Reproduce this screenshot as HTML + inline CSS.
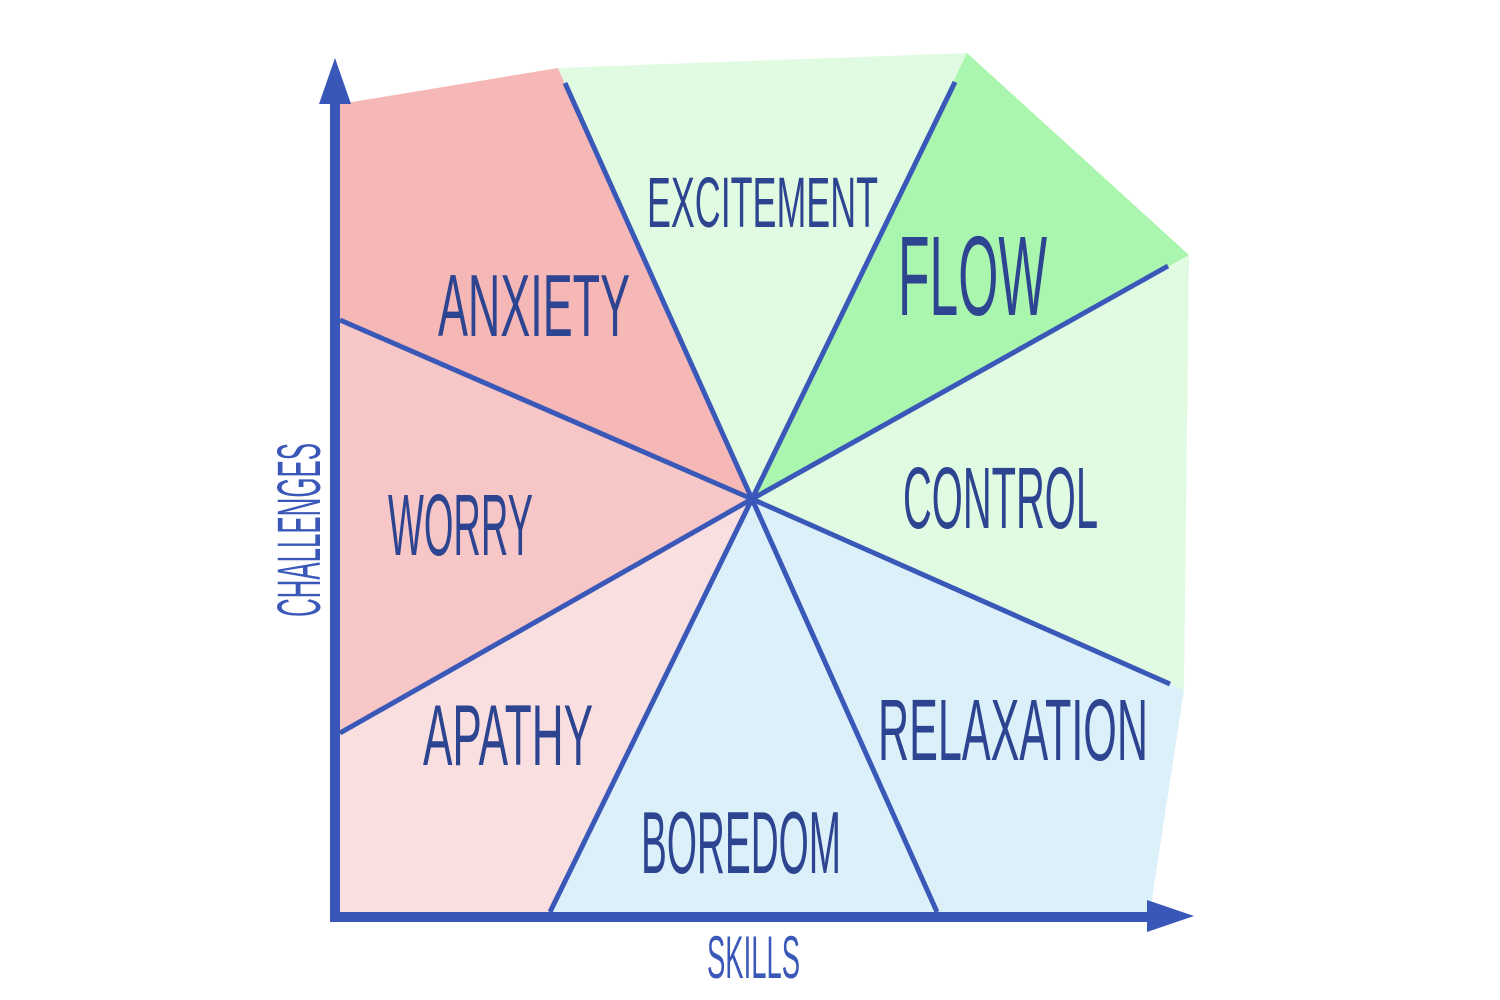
<!DOCTYPE html>
<html>
<head>
<meta charset="utf-8">
<style>
  html, body { margin: 0; padding: 0; background: #ffffff; }
  body { width: 1500px; height: 1000px; overflow: hidden; }
  svg { display: block; }
  .lbl { font-family: "Liberation Sans", "DejaVu Sans", sans-serif; fill: #2d4490; }
  .ax { font-family: "Liberation Sans", "DejaVu Sans", sans-serif; fill: #3a58b8; }
</style>
</head>
<body>
<svg width="1500" height="1000" viewBox="0 0 1500 1000" xmlns="http://www.w3.org/2000/svg">
  <!-- wedges -->
  <polygon points="752,499 340,320 340,104 558,68" fill="#f6b7b7"/>
  <polygon points="752,499 558,68 967,53" fill="#e0fbe1"/>
  <polygon points="752,499 967,53 1189,255" fill="#aaf6ae"/>
  <polygon points="752,499 1189,255 1184,690" fill="#e0fbe1"/>
  <polygon points="752,499 1184,690 1150,912 937,912" fill="#dcf0fa"/>
  <polygon points="752,499 937,912 550,912" fill="#dcf0fa"/>
  <polygon points="752,499 550,912 340,912 340,733" fill="#f9dfdf"/>
  <polygon points="752,499 340,733 340,320" fill="#f7c7c7"/>

  <!-- divider lines -->
  <g stroke="#3a58b8" stroke-width="5" stroke-linecap="butt">
    <line x1="752" y1="499" x2="565" y2="83"/>
    <line x1="752" y1="499" x2="955" y2="82"/>
    <line x1="752" y1="499" x2="1168" y2="266"/>
    <line x1="752" y1="499" x2="1170" y2="684"/>
    <line x1="752" y1="499" x2="937" y2="912"/>
    <line x1="752" y1="499" x2="550" y2="912"/>
    <line x1="752" y1="499" x2="340" y2="733"/>
    <line x1="752" y1="499" x2="340" y2="320"/>
  </g>

  <!-- axes -->
  <rect x="330" y="102" width="10" height="820" fill="#3857b8"/>
  <polygon points="319,104 351,104 335,58" fill="#3857b8"/>
  <rect x="330" y="912" width="819" height="10" fill="#3857b8"/>
  <polygon points="1147,900 1147,932 1194,916" fill="#3857b8"/>

  <!-- labels -->
  <text class="lbl" x="647" y="227" font-size="71" textLength="231" lengthAdjust="spacingAndGlyphs">EXCITEMENT</text>
  <text class="lbl" x="898" y="315" font-size="113" textLength="149" lengthAdjust="spacingAndGlyphs">FLOW</text>
  <text class="lbl" x="438" y="336" font-size="88" textLength="192" lengthAdjust="spacingAndGlyphs">ANXIETY</text>
  <text class="lbl" x="388" y="555" font-size="87" textLength="145" lengthAdjust="spacingAndGlyphs">WORRY</text>
  <text class="lbl" x="903" y="528" font-size="87" textLength="195" lengthAdjust="spacingAndGlyphs">CONTROL</text>
  <text class="lbl" x="423" y="765" font-size="86" textLength="170" lengthAdjust="spacingAndGlyphs">APATHY</text>
  <text class="lbl" x="641" y="873" font-size="88" textLength="200" lengthAdjust="spacingAndGlyphs">BOREDOM</text>
  <text class="lbl" x="878" y="760" font-size="87" textLength="270" lengthAdjust="spacingAndGlyphs">RELAXATION</text>

  <text class="ax" x="707" y="978" font-size="60" textLength="93" lengthAdjust="spacingAndGlyphs">SKILLS</text>
  <text class="ax" transform="translate(320,617) rotate(-90)" x="0" y="0" font-size="61" textLength="174" lengthAdjust="spacingAndGlyphs">CHALLENGES</text>
</svg>
</body>
</html>
